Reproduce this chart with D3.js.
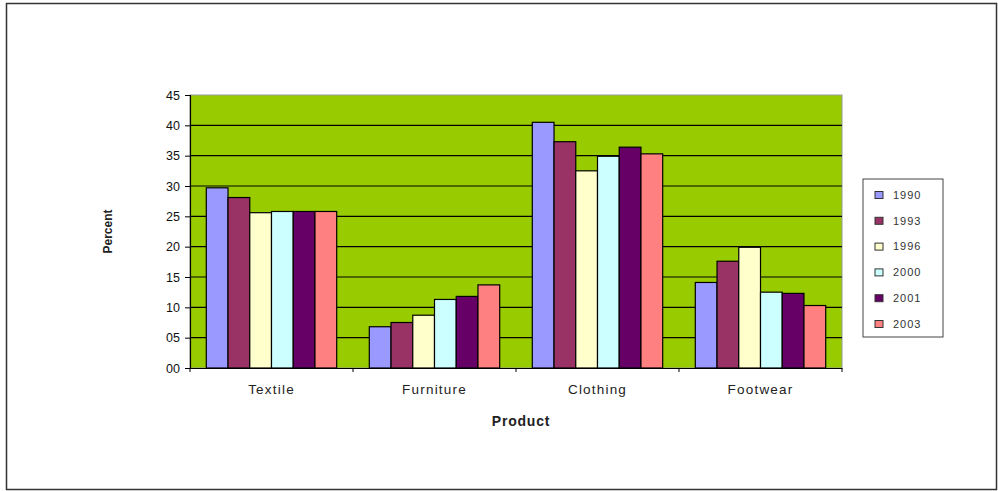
<!DOCTYPE html>
<html>
<head>
<meta charset="utf-8">
<script src="https://cdn.jsdelivr.net/npm/d3@7"></script>
<style>
  body { margin: 0; background: #fff; }
  text { font-family: Arial, "Liberation Sans", sans-serif; }
</style>
</head>
<body>
<svg id="chart"></svg>
<script>
const products = ['Textile', 'Furniture', 'Clothing', 'Footwear'];
const years = ['1990', '1993', '1996', '2000', '2001', '2003'];
const colours = ['#9999ff', '#993366', '#ffffcc', '#ccffff', '#660066', '#ff8080'];
const yTicks = [0, 5, 10, 15, 20, 25, 30, 35, 40, 45];
// one array per year, in product order
const v1990 = [29.7, 6.8, 40.5, 14.1];
const v1993 = [28.1, 7.5, 37.3, 17.6];
const v1996 = [25.6, 8.7, 32.5, 19.9];
const v2000 = [25.8, 11.3, 34.9, 12.5];
const v2001 = [25.8, 11.8, 36.4, 12.3];
const v2003 = [25.8, 13.7, 35.3, 10.3];
const series = [v1990, v1993, v1996, v2000, v2001, v2003];

const width = 998;
const height = 491;
const plot = { left: 190, top: 95, right: 842, bottom: 368 };

const svg = d3.select('#chart')
  .attr('width', width)
  .attr('height', height);

// outer frame
svg.append('rect')
  .attr('x', 6.5).attr('y', 3.5)
  .attr('width', 990).attr('height', 486)
  .attr('fill', '#fff')
  .attr('stroke', '#333')
  .attr('stroke-width', 1.5);

const x = d3.scaleBand()
  .domain(products)
  .range([plot.left, plot.right]);

const xInner = d3.scaleBand()
  .domain(years)
  .range([0, x.bandwidth()])
  .paddingOuter(0.75);

const y = d3.scaleLinear()
  .domain([0, 45])
  .range([plot.bottom, plot.top]);

svg.append('rect')
  .attr('x', plot.left).attr('y', plot.top)
  .attr('width', plot.right - plot.left)
  .attr('height', plot.bottom - plot.top)
  .attr('fill', '#99cc00')
  .attr('stroke', '#999')
  .attr('stroke-width', 1);

// gridlines
svg.append('g')
  .selectAll('line')
  .data(yTicks.slice(1, -1))
  .enter()
  .append('line')
  .attr('x1', plot.left).attr('x2', plot.right)
  .attr('y1', d => y(d)).attr('y2', d => y(d))
  .attr('stroke', '#000')
  .attr('stroke-width', 1.2);

// bars
const groups = svg.append('g')
  .selectAll('g')
  .data(series)
  .enter()
  .append('g')
  .attr('fill', (d, i) => colours[i]);

groups.selectAll('rect')
  .data((d, i) => d.map((v, j) => ({ v: v, p: products[j], yr: years[i] })))
  .enter()
  .append('rect')
  .attr('x', d => x(d.p) + xInner(d.yr))
  .attr('y', d => y(d.v))
  .attr('width', xInner.bandwidth())
  .attr('height', d => y(0) - y(d.v))
  .attr('stroke', '#000')
  .attr('stroke-width', 1.2);

// axes
const yAxis = svg.append('g')
  .attr('transform', `translate(${plot.left},0)`)
  .call(d3.axisLeft(y).tickValues(yTicks).tickSize(5).tickFormat(d3.format('02d')));
yAxis.selectAll('text')
  .attr('font-size', 12.5)
  .attr('fill', '#111')
  .attr('dx', '-2');

const xAxis = svg.append('g')
  .attr('transform', `translate(0,${plot.bottom})`)
  .call(d3.axisBottom(x).tickSize(0).tickPadding(16));
xAxis.selectAll('text')
  .attr('font-size', 13.5)
  .attr('letter-spacing', '1.2px')
  .attr('fill', '#222');

// category tick marks
svg.append('g')
  .selectAll('line')
  .data(d3.range(products.length + 1))
  .enter()
  .append('line')
  .attr('x1', i => plot.left + i * x.step())
  .attr('x2', i => plot.left + i * x.step())
  .attr('y1', plot.bottom).attr('y2', plot.bottom + 4)
  .attr('stroke', '#000');

svg.selectAll('.domain').attr('stroke', '#000').attr('stroke-width', 1.2);

svg.append('text')
  .attr('x', (plot.left + plot.right) / 2 + 5)
  .attr('y', 426)
  .attr('text-anchor', 'middle')
  .attr('font-size', 14)
  .attr('font-weight', 'bold')
  .attr('letter-spacing', '0.8px')
  .attr('fill', '#222')
  .text('Product');

svg.append('text')
  .attr('transform', `translate(112,${(plot.top + plot.bottom) / 2}) rotate(-90)`)
  .attr('text-anchor', 'middle')
  .attr('font-size', 12)
  .attr('font-weight', 'bold')
  .attr('fill', '#222')
  .text('Percent');

// legend
const legend = svg.append('g')
  .attr('transform', 'translate(863,179)');
legend.append('rect')
  .attr('width', 80).attr('height', 158)
  .attr('fill', '#fff')
  .attr('stroke', '#444');
const items = legend.selectAll('g')
  .data(years)
  .enter()
  .append('g')
  .attr('transform', (d, i) => `translate(12,${16 + i * 25.8})`);
items.append('rect')
  .attr('width', 8).attr('height', 7)
  .attr('y', -3.5)
  .attr('fill', (d, i) => colours[i])
  .attr('stroke', '#333')
  .attr('stroke-width', 1);
items.append('text')
  .attr('x', 18)
  .attr('dy', '0.35em')
  .attr('font-size', 11)
  .attr('letter-spacing', '1px')
  .attr('fill', '#333')
  .text(d => d);
</script>
</body>
</html>
